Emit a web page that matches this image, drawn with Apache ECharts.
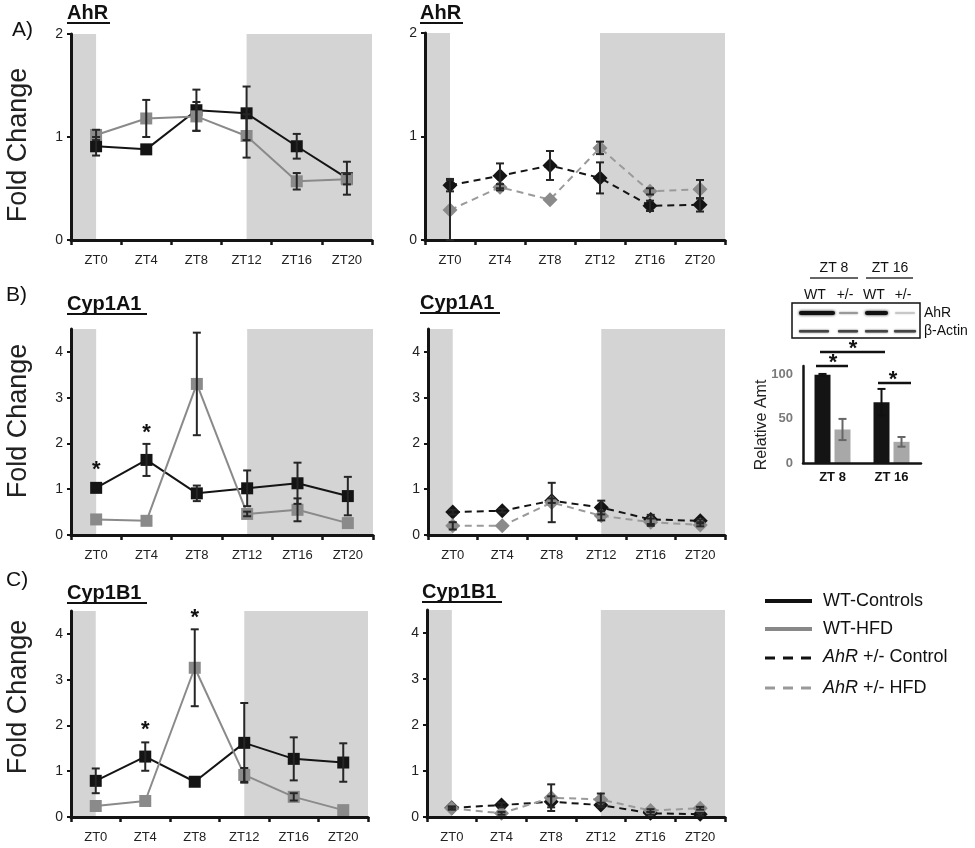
<!DOCTYPE html>
<html><head><meta charset="utf-8">
<script src="https://cdn.jsdelivr.net/npm/echarts@6/dist/echarts.min.js"></script>
<style>html,body{margin:0;padding:0;background:#fff}#c{width:975px;height:848px}</style>
</head><body><div id="c"></div>
<script>
// ---------- data ----------
const ztLabels = ['ZT0','ZT4','ZT8','ZT12','ZT16','ZT20'];
const ztHours = [0,4,8,12,16,20];
const nightBands = [[-2,0],[12,22]];

// A) AhR
const ahrWTCtrl     = [0.91,0.88,1.26,1.23,0.91,0.60];
const ahrWTCtrlErr  = [0.09,0.00,0.20,0.26,0.12,0.16];
const ahrWTHFD      = [1.02,1.18,1.20,1.01,0.57,0.59];
const ahrWTHFDErr   = [0.05,0.18,0.14,0.21,0.08,0.05];
const ahrHetCtrl    = [0.53,0.62,0.72,0.60,0.33,0.34];
const ahrHetCtrlErr = [0.06,0.12,0.14,0.15,0.05,0.065];
const ahrHetHFD     = [0.29,0.51,0.39,0.89,0.47,0.49];
const ahrHetHFDErr  = [0.29,0.03,0.00,0.06,0.03,0.09];

// B) Cyp1A1
const a1WTCtrl      = [1.03,1.64,0.91,1.02,1.13,0.85];
const a1WTCtrlErr   = [0.00,0.35,0.17,0.39,0.45,0.42];
const a1WTHFD       = [0.34,0.31,3.30,0.46,0.55,0.26];
const a1WTHFDErr    = [0.00,0.00,1.12,0.05,0.25,0.00];
const a1HetCtrl     = [0.50,0.53,0.75,0.60,0.34,0.31];
const a1HetCtrlErr  = [0.05,0.04,0.05,0.15,0.10,0.03];
const a1HetHFD      = [0.20,0.20,0.71,0.42,0.28,0.22];
const a1HetHFDErr   = [0.08,0.00,0.43,0.10,0.08,0.03];
const a1Stars       = [[0,1.42],[4,2.23]];

// C) Cyp1B1
const b1WTCtrl      = [0.79,1.32,0.77,1.62,1.27,1.19];
const b1WTCtrlErr   = [0.27,0.31,0.00,0.87,0.47,0.42];
const b1WTHFD       = [0.24,0.35,3.26,0.92,0.44,0.15];
const b1WTHFDErr    = [0.00,0.00,0.84,0.15,0.08,0.00];
const b1HetCtrl     = [0.20,0.26,0.33,0.26,0.08,0.06];
const b1HetCtrlErr  = [0.03,0.05,0.12,0.05,0.03,0.03];
const b1HetHFD      = [0.19,0.08,0.42,0.38,0.14,0.19];
const b1HetHFDErr   = [0.03,0.03,0.29,0.13,0.03,0.03];
const b1Stars       = [[4,1.90],[8,4.35]];

// Inset: western blot quantification
const insetCats   = ['ZT 8','ZT 16'];
const insetWT     = [100,69];
const insetWTErr  = [1,15];
const insetHet    = [38,24];
const insetHetErr = [12,5.5];

// ---------- style ----------
const BLACK = '#141414', GRAY = '#8a8a8a', GRAYD = '#9a9a9a', BAND = '#d4d4d4';
const FONT = '"Liberation Sans", Arial, sans-serif';

const grids = [], xAxes = [], yAxes = [], series = [];

function errRender(color, capHalf, offset){
  return function(params, api){
    const x = api.value(0), lo = api.value(1), hi = api.value(2);
    if (!(hi - lo > 0.0001)) return null;
    const a = api.coord([x, lo]), b = api.coord([x, hi]);
    const ox = offset || 0;
    const st = {stroke: color, lineWidth: 2};
    return {type:'group', children:[
      {type:'line', shape:{x1:a[0]+ox,y1:a[1],x2:b[0]+ox,y2:b[1]}, style:st},
      {type:'line', shape:{x1:a[0]+ox-capHalf,y1:a[1],x2:a[0]+ox+capHalf,y2:a[1]}, style:st},
      {type:'line', shape:{x1:b[0]+ox-capHalf,y1:b[1],x2:b[0]+ox+capHalf,y2:b[1]}, style:st}
    ]};
  };
}

function addPanel(pos, yMax, yTicks, lines, stars){
  const gi = grids.length;
  grids.push(Object.assign({containLabel:false}, pos));
  xAxes.push({type:'category', gridIndex:gi, data:ztLabels, boundaryGap:true,
    axisLine:{show:true, onZero:false, lineStyle:{color:BLACK, width:3}},
    axisTick:{show:true, length:5, lineStyle:{color:BLACK, width:2.5}},
    axisLabel:{margin:14, fontSize:13, color:'#222', fontFamily:FONT},
    splitLine:{show:false}, z:5});
  const xVal = xAxes.length;
  xAxes.push({type:'value', gridIndex:gi, min:-2, max:22, show:false, axisLine:{onZero:false}});
  yAxes.push({type:'value', gridIndex:gi, min:0, max:yMax, position:'left',
    axisLine:{show:true, onZero:false, lineStyle:{color:BLACK, width:3}},
    axisTick:{show:true, length:4, customValues:yTicks, lineStyle:{color:BLACK, width:2}},
    axisLabel:{show:true, customValues:yTicks, margin:8, fontSize:14, color:'#222', fontFamily:FONT},
    splitLine:{show:false}, z:5});
  const yi = gi;
  // night shading
  series.push({type:'custom', xAxisIndex:xVal, yAxisIndex:yi, z:1, silent:true,
    data:nightBands,
    renderItem:function(params, api){
      const p0 = api.coord([api.value(0), yMax]);
      const p1 = api.coord([api.value(1), 0]);
      return {type:'rect', shape:{x:p0[0], y:p0[1], width:p1[0]-p0[0], height:p1[1]-p0[1]}, style:{fill:BAND}};
    }});
  lines.forEach(function(L, k){
    series.push({type:'line', name:L.name, xAxisIndex:xVal, yAxisIndex:yi, z:3+k,
      data: ztHours.map((h,i)=>[h, L.vals[i]]),
      symbol:L.symbol, symbolSize:L.size, showSymbol:true,
      lineStyle:{color:L.lineColor, width:2, type:L.dash ? [7,5] : 'solid'},
      itemStyle:{color:L.color, borderWidth:0}, animation:false, silent:true});
  });
  lines.forEach(function(L, k){
    series.push({type:'custom', xAxisIndex:xVal, yAxisIndex:yi, z:8, silent:true,
      encode:{x:0, y:[1,2]},
      data: ztHours.map((h,i)=>[h, L.vals[i]-L.err[i], L.vals[i]+L.err[i]]),
      renderItem: errRender('#262626', 4, 0)});
  });
  if (stars) {
    series.push({type:'custom', xAxisIndex:xVal, yAxisIndex:yi, z:9, silent:true,
      data: stars,
      renderItem:function(params, api){
        const p = api.coord([api.value(0), api.value(1)]);
        return {type:'text', x:p[0], y:p[1], style:{text:'*', fill:'#111', font:'bold 22px ' + FONT, align:'center', verticalAlign:'middle'}};
      }});
  }
}

function wtLines(c, h, ce, he){
  return [
    {name:'WT-Controls', vals:c, err:ce, symbol:'rect', size:12, color:BLACK, lineColor:BLACK, dash:false},
    {name:'WT-HFD', vals:h, err:he, symbol:'rect', size:12, color:GRAY, lineColor:GRAY, dash:false}
  ];
}
function hetLines(c, h, ce, he){
  return [
    {name:'AhR +/- Control', vals:c, err:ce, symbol:'diamond', size:15, color:BLACK, lineColor:BLACK, dash:true},
    {name:'AhR +/- HFD', vals:h, err:he, symbol:'diamond', size:15, color:GRAY, lineColor:GRAYD, dash:true}
  ];
}

addPanel({left:71, top:34, width:301, height:206}, 2, [0,1,2], wtLines(ahrWTCtrl, ahrWTHFD, ahrWTCtrlErr, ahrWTHFDErr));
addPanel({left:425, top:33, width:300, height:207}, 2, [0,1,2], hetLines(ahrHetCtrl, ahrHetHFD, ahrHetCtrlErr, ahrHetHFDErr));
addPanel({left:71, top:329, width:302, height:206}, 4.5, [0,1,2,3,4], wtLines(a1WTCtrl, a1WTHFD, a1WTCtrlErr, a1WTHFDErr), a1Stars);
addPanel({left:428, top:329, width:297, height:206}, 4.5, [0,1,2,3,4], hetLines(a1HetCtrl, a1HetHFD, a1HetCtrlErr, a1HetHFDErr));
addPanel({left:71, top:611, width:297, height:206}, 4.5, [0,1,2,3,4], wtLines(b1WTCtrl, b1WTHFD, b1WTCtrlErr, b1WTHFDErr), b1Stars);
addPanel({left:427, top:610, width:298, height:207}, 4.5, [0,1,2,3,4], hetLines(b1HetCtrl, b1HetHFD, b1HetCtrlErr, b1HetHFDErr));

// inset bar chart
const ig = grids.length;
grids.push({left:803, top:366, width:118, height:97});
const ix = xAxes.length;
xAxes.push({type:'category', gridIndex:ig, data:insetCats, boundaryGap:true,
  axisLine:{show:true, lineStyle:{color:BLACK, width:2.5}}, axisTick:{show:false},
  axisLabel:{margin:8, fontSize:13, fontWeight:'bold', color:'#111', fontFamily:FONT}, z:5});
const iy = yAxes.length;
yAxes.push({type:'value', gridIndex:ig, min:0, max:110,
  axisLine:{show:true, lineStyle:{color:BLACK, width:2.5}},
  axisTick:{show:false},
  axisLabel:{customValues:[0,50,100], margin:10, fontSize:13, fontWeight:'bold', color:'#7a7a7a', fontFamily:FONT},
  splitLine:{show:false}, z:5});
series.push({type:'bar', name:'WT', xAxisIndex:ix, yAxisIndex:iy, data:insetWT, barWidth:16, barGap:'25%',
  itemStyle:{color:'#141414'}, silent:true, z:2});
series.push({type:'bar', name:'+/-', xAxisIndex:ix, yAxisIndex:iy, data:insetHet, barWidth:16, barGap:'25%',
  itemStyle:{color:'#a8a8a8'}, silent:true, z:2});
series.push({type:'custom', xAxisIndex:ix, yAxisIndex:iy, z:4, silent:true, encode:{x:0,y:[1,2]},
  data: insetWT.map((v,i)=>[i, v-insetWTErr[i], v+insetWTErr[i]]), renderItem: errRender('#111', 4, -10)});
series.push({type:'custom', xAxisIndex:ix, yAxisIndex:iy, z:4, silent:true, encode:{x:0,y:[1,2]},
  data: insetHet.map((v,i)=>[i, v-insetHetErr[i], v+insetHetErr[i]]), renderItem: errRender('#666', 4, 10)});

// ---------- decorations ----------
function txt(x, y, text, font, extra){
  return {type:'text', x:x, y:y, silent:true, z:20,
    style:Object.assign({text:text, font:font, fill:'#111', align:'left', verticalAlign:'middle'}, extra||{})};
}
function line(x1,y1,x2,y2,color,w,dash){
  return {type:'line', silent:true, z:20, shape:{x1:x1,y1:y1,x2:x2,y2:y2}, style:{stroke:color, lineWidth:w, lineDash:dash||null}};
}
function title(x, y, text, w){
  return [txt(x, y, text, 'bold 20px ' + FONT), line(x, y+10, x+w, y+10, '#111', 2)];
}
function foldChange(cy){
  return {type:'text', x:19, y:cy, rotation:Math.PI/2, silent:true, z:20,
    style:{text:'Fold Change', font:'27px ' + FONT, fill:'#222', align:'center', verticalAlign:'middle'}};
}
const richItalic = {i:{fontStyle:'italic', font:'italic 18px ' + FONT, fill:'#111'}};
const graphics = [].concat(
  [txt(12, 30, 'A)', '21px ' + FONT), txt(6, 295, 'B)', '21px ' + FONT), txt(6, 580, 'C)', '21px ' + FONT)],
  title(67, 13, 'AhR', 43), title(420, 13, 'AhR', 43),
  title(67, 304, 'Cyp1A1', 80), title(420, 303, 'Cyp1A1', 80),
  title(67, 593, 'Cyp1B1', 80), title(422, 592, 'Cyp1B1', 80),
  [foldChange(145), foldChange(421), foldChange(697)],
  // legend
  [line(765, 601, 812, 601, '#111', 4), txt(823, 601, 'WT-Controls', '18px ' + FONT),
   line(765, 629, 812, 629, '#888', 4), txt(823, 629, 'WT-HFD', '18px ' + FONT),
   line(765, 658, 812, 658, '#111', 3, [10,8]),
   {type:'text', x:823, y:657, silent:true, z:20, style:{text:'{i|AhR} +/- Control', font:'18px ' + FONT, fill:'#111', verticalAlign:'middle', rich:richItalic}},
   line(765, 688, 812, 688, '#999', 3, [10,8]),
   {type:'text', x:823, y:688, silent:true, z:20, style:{text:'{i|AhR} +/- HFD', font:'18px ' + FONT, fill:'#111', verticalAlign:'middle', rich:richItalic}}
  ],
  // blot header
  [txt(834, 268, 'ZT 8', '14px ' + FONT, {align:'center'}), txt(890, 268, 'ZT 16', '14px ' + FONT, {align:'center'}),
   line(810, 278, 858, 278, '#333', 1.5), line(866, 278, 913, 278, '#333', 1.5),
   txt(815, 295, 'WT', '14px ' + FONT, {align:'center'}), txt(845, 295, '+/-', '14px ' + FONT, {align:'center'}),
   txt(874, 295, 'WT', '14px ' + FONT, {align:'center'}), txt(903, 295, '+/-', '14px ' + FONT, {align:'center'}),
   {type:'rect', silent:true, z:20, shape:{x:792, y:303, width:128, height:35}, style:{fill:'#fff', stroke:'#111', lineWidth:1.5}},
   {type:'rect', silent:true, z:21, shape:{x:799, y:311, width:36, height:4, r:2}, style:{fill:'#111', shadowBlur:3, shadowColor:'#111'}},
   {type:'rect', silent:true, z:21, shape:{x:839, y:312, width:19, height:2, r:1}, style:{fill:'#999', shadowBlur:2, shadowColor:'#999'}},
   {type:'rect', silent:true, z:21, shape:{x:865, y:311, width:23, height:4, r:2}, style:{fill:'#111', shadowBlur:3, shadowColor:'#111'}},
   {type:'rect', silent:true, z:21, shape:{x:895, y:312, width:20, height:2, r:1}, style:{fill:'#c8c8c8', shadowBlur:2, shadowColor:'#ccc'}},
   {type:'rect', silent:true, z:21, shape:{x:799, y:330, width:30, height:2.5, r:1}, style:{fill:'#444', shadowBlur:2, shadowColor:'#555'}},
   {type:'rect', silent:true, z:21, shape:{x:838, y:330, width:20, height:2.5, r:1}, style:{fill:'#444', shadowBlur:2, shadowColor:'#555'}},
   {type:'rect', silent:true, z:21, shape:{x:865, y:330, width:23, height:2.5, r:1}, style:{fill:'#444', shadowBlur:2, shadowColor:'#555'}},
   {type:'rect', silent:true, z:21, shape:{x:894, y:330, width:22, height:2.5, r:1}, style:{fill:'#444', shadowBlur:2, shadowColor:'#555'}},
   txt(924, 313, 'AhR', '14px ' + FONT), txt(924, 331, 'β-Actin', '14px ' + FONT),
   // significance
   line(820, 352, 885, 352, '#111', 2.5), txt(853, 349, '*', 'bold 22px ' + FONT, {align:'center'}),
   line(816, 366, 848, 366, '#111', 2.5), txt(833, 363, '*', 'bold 22px ' + FONT, {align:'center'}),
   line(878, 383, 911, 383, '#111', 2.5), txt(893, 380, '*', 'bold 22px ' + FONT, {align:'center'}),
   {type:'text', x:762, y:425, rotation:Math.PI/2, silent:true, z:20, style:{text:'Relative Amt', font:'16px ' + FONT, fill:'#222', align:'center', verticalAlign:'middle'}}
  ]
);

const chart = echarts.init(document.getElementById('c'), null, {renderer:'canvas'});
chart.setOption({
  animation:false,
  backgroundColor:'#fff',
  grid:grids, xAxis:xAxes, yAxis:yAxes, series:series,
  graphic:{elements:graphics}
});
</script></body></html>
